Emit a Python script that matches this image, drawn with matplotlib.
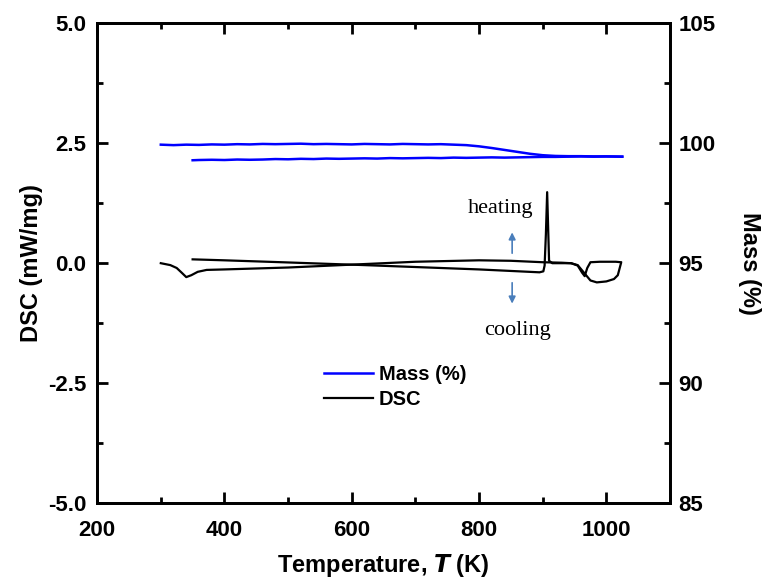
import matplotlib
matplotlib.use("Agg")
import matplotlib.pyplot as plt
from matplotlib.ticker import MultipleLocator

# ---- data ----
mass_heat_T = [300, 320, 340, 360, 380, 400, 420, 440, 460, 480, 500, 520, 540, 560, 580, 600,
               620, 640, 660, 680, 700, 720, 740, 760, 780, 800, 820, 840, 860, 880, 900,
               920, 940, 960, 980, 1000, 1025]
mass_heat = [99.94, 99.92, 99.94, 99.93, 99.95, 99.94, 99.96, 99.95, 99.97, 99.96, 99.97, 99.98, 99.96, 99.97, 99.96, 99.95,
             99.97, 99.96, 99.95, 99.97, 99.96, 99.95, 99.96, 99.94, 99.92, 99.87, 99.80, 99.72, 99.64, 99.56, 99.50,
             99.47, 99.46, 99.46, 99.45, 99.45, 99.44]

mass_cool_T = [1025, 1000, 980, 960, 940, 920, 900, 880, 860, 840, 820, 800, 780, 760, 740, 720, 700,
               680, 660, 640, 620, 600, 580, 560, 540, 520, 500, 480, 460, 440, 420, 400, 380, 360, 350]
mass_cool = [99.44, 99.45, 99.44, 99.45, 99.44, 99.43, 99.43, 99.42, 99.41, 99.40, 99.41, 99.40, 99.39, 99.40, 99.38, 99.39, 99.38,
             99.37, 99.38, 99.36, 99.37, 99.36, 99.35, 99.36, 99.34, 99.35, 99.33, 99.34, 99.32, 99.31, 99.32, 99.30, 99.31, 99.30, 99.29]

dsc_heat_T = [300, 315, 325, 333, 340, 348, 358, 372, 400, 450, 500, 600, 700, 800, 850,
              900, 930, 944, 955, 965, 975, 985, 1000, 1012, 1018, 1021, 1023]
dsc_heat = [0.0, -0.04, -0.1, -0.2, -0.29, -0.25, -0.18, -0.14, -0.13, -0.11, -0.09, -0.03, 0.03, 0.06, 0.05,
            0.02, 0.01, 0.0, -0.04, -0.2, -0.36, -0.4, -0.38, -0.33, -0.25, -0.1, 0.0]

dsc_cool_T = [1023, 1015, 990, 975, 970, 966, 962, 955, 945, 915, 910, 907, 905, 903, 901, 895,
              800, 700, 620, 490, 400, 350]
dsc_cool = [0.02, 0.03, 0.03, 0.02, -0.1, -0.27, -0.2, -0.05, 0.0, 0.0, 0.05, 1.48, 0.6, -0.05, -0.17, -0.19,
            -0.13, -0.08, -0.04, 0.02, 0.06, 0.08]

plt.rcParams['font.family'] = ['Liberation Sans', 'DejaVu Sans']
plt.rcParams['font.weight'] = 'bold'

fig = plt.figure(figsize=(7.71, 5.81), dpi=100)
ax = fig.add_axes([0.126, 0.134, 0.743, 0.826])
ax2 = ax.twinx()

l_mass, = ax2.plot(mass_heat_T, mass_heat, color='#0000ff', lw=1.8)
ax2.plot(mass_cool_T, mass_cool, color='#0000ff', lw=1.8)
l_dsc, = ax.plot(dsc_heat_T, dsc_heat, color='black', lw=1.6)
ax.plot(dsc_cool_T, dsc_cool, color='black', lw=1.6)

ax.set_xlim(200, 1100)
ax.set_ylim(-5.0, 5.0)
ax2.set_ylim(85, 105)

ax.xaxis.set_major_locator(MultipleLocator(200))
ax.xaxis.set_minor_locator(MultipleLocator(100))
ax.yaxis.set_major_locator(MultipleLocator(2.5))
ax.yaxis.set_minor_locator(MultipleLocator(1.25))
ax2.yaxis.set_major_locator(MultipleLocator(5))
ax2.yaxis.set_minor_locator(MultipleLocator(2.5))
ax.yaxis.set_major_formatter(matplotlib.ticker.FormatStrFormatter('%.1f'))

for a in (ax, ax2):
    for s in a.spines.values():
        s.set_linewidth(2)
ax.tick_params(axis='both', which='both', direction='in', width=2, labelsize=16)
ax.tick_params(axis='x', which='both', top=True, pad=12)
ax.tick_params(which='major', length=8)
ax.tick_params(which='minor', length=4)
ax.tick_params(axis='y', which='both', right=False, pad=8)
ax2.tick_params(axis='y', which='both', direction='in', width=2, labelsize=16, pad=6)
ax2.tick_params(which='major', length=8)
ax2.tick_params(which='minor', length=4)

ax.set_xlabel(r'Temperature, $\boldsymbol{T}$ (K)', fontsize=17, fontweight='bold', labelpad=8)
ax.set_ylabel('DSC (mW/mg)', fontsize=17, fontweight='bold', labelpad=3)
ax2.set_ylabel('Mass (%)', fontsize=17, fontweight='bold', rotation=270, labelpad=33)

ax.legend([l_mass, l_dsc], ['Mass (%)', 'DSC'], loc='upper left', bbox_to_anchor=(0.365, 0.325),
          frameon=False, fontsize=14.5, handlelength=2.4, handletextpad=0.3, labelspacing=0.3)

serif = ['Liberation Serif', 'DejaVu Serif']
ax.text(833, 1.15, 'heating', family=serif, fontweight='normal', fontsize=16, ha='center', va='center')
ax.text(860, -1.4, 'cooling', family=serif, fontweight='normal', fontsize=16, ha='center', va='center')
ax.annotate('', xy=(852, 0.7), xytext=(852, 0.15),
            arrowprops=dict(arrowstyle='-|>', color='#4a7ebb', lw=1.2, mutation_scale=10))
ax.annotate('', xy=(852, -0.9), xytext=(852, -0.35),
            arrowprops=dict(arrowstyle='-|>', color='#4a7ebb', lw=1.2, mutation_scale=10))

fig.savefig('out.png', dpi=100)
